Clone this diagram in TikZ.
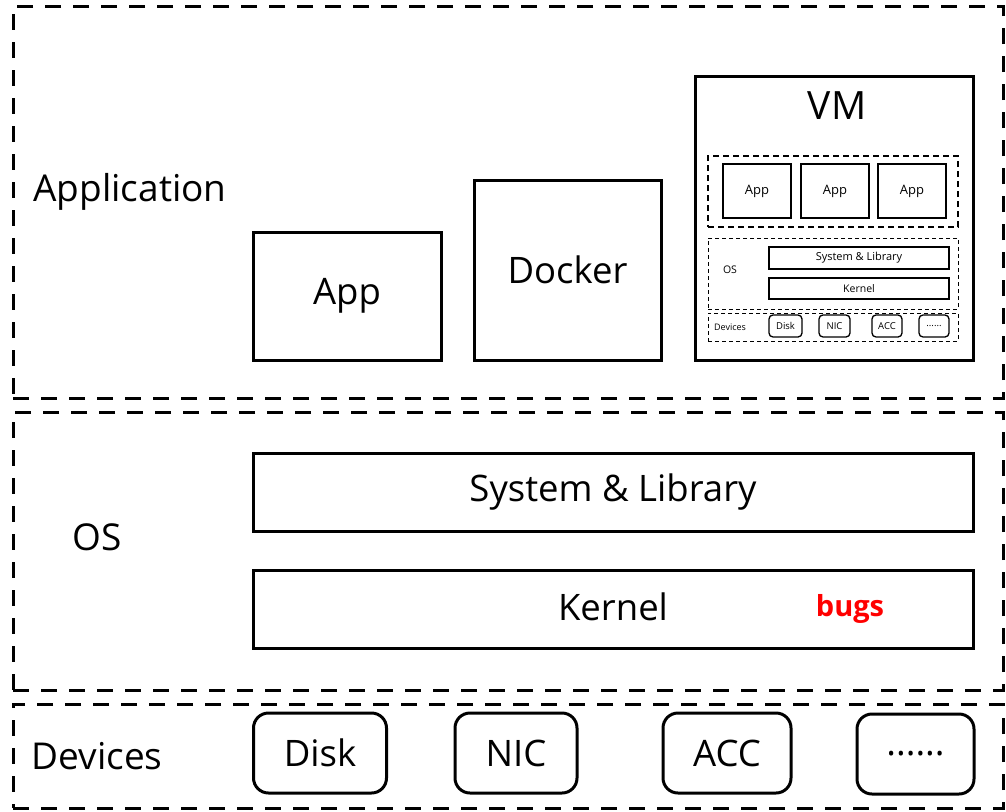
\documentclass[tikz,border=0pt]{standalone}
\usepackage{fontspec}
\setmainfont{Open Sans}
\usetikzlibrary{positioning}
\begin{document}
\begin{tikzpicture}[x=1pt,y=-1pt,
  layer/.style={draw, line width=3pt, dash pattern=on 16pt off 12pt, minimum width=#1},
  solidbox/.style={draw, line width=3pt, inner sep=0pt},
  dev/.style={draw, line width=3pt, rounded corners=15pt, inner sep=0pt, minimum width=#1, minimum height=80pt},
  big/.style={font=\fontsize{37}{42}\selectfont},
  mid/.style={font=\fontsize{36.5}{42}\selectfont},
  vmbox/.style={draw, line width=1.6pt, inner sep=0pt},
  vmdash/.style={draw, line width=1.8pt, dash pattern=on 6pt off 4pt, inner sep=0pt},
  vmthin/.style={draw, line width=0.9pt, dash pattern=on 4pt off 3pt, inner sep=0pt},
  tiny/.style={font=\fontsize{10.5}{12}\selectfont},
  dtiny/.style={draw, line width=1.3pt, rounded corners=4pt, inner sep=0pt, minimum height=22pt, font=\fontsize{9.5}{11}\selectfont}
]
\useasboundingbox (0,0) rectangle (1006,811);

% three layers
\node[layer=990pt, minimum height=392pt] (applayer) at (508,202) {};
\node[layer=990pt, minimum height=278pt] (oslayer) at (508,551) {};
\node[layer=990pt, minimum height=104pt] (devlayer) at (508,756) {};

\node[big] (lapp) at (130,192) {Application};
\node[big] (los) at (97,537) {OS};
\node[big] (ldev) at (97,756) {Devices};

% application layer
\node[solidbox, minimum width=188pt, minimum height=128pt, mid] (app) at (347,296) {App};
\node[solidbox, minimum width=187pt, minimum height=180pt, mid] (docker) at (567.5,270) {Docker};
\node[solidbox, minimum width=278pt, minimum height=284pt] (vm) at (834,218) {};
\node[font=\fontsize{39}{44}\selectfont] (vmlabel) at (837,106) {VM};

% inside the VM
\node[vmdash, minimum width=250pt, minimum height=71pt] (vmapps) at (833,191.5) {};
\node[vmbox, minimum width=68pt, minimum height=54pt, font=\fontsize{13}{15}\selectfont] (vmapp1) at (757,191) {App};
\node[vmbox, minimum width=68pt, minimum height=54pt, font=\fontsize{13}{15}\selectfont] (vmapp2) at (835,191) {App};
\node[vmbox, minimum width=68pt, minimum height=54pt, font=\fontsize{13}{15}\selectfont] (vmapp3) at (912,191) {App};

\node[vmthin, minimum width=250pt, minimum height=71pt] (vmos) at (833,273.5) {};
\node[tiny] (vmoslabel) at (730,270) {OS};
\node[vmbox, line width=1.2pt, minimum width=180pt, minimum height=22pt, font=\fontsize{11}{13}\selectfont] (vmsys) at (859,258) {System \& Library};
\node[vmbox, line width=1.2pt, minimum width=180pt, minimum height=21pt, font=\fontsize{10.5}{12}\selectfont] (vmkern) at (859,288.5) {Kernel};

\node[vmthin, minimum width=250pt, minimum height=28pt] (vmdev) at (833,327) {};
\node[font=\fontsize{9}{11}\selectfont] (vmdevlabel) at (730,327) {Devices};
\node[dtiny, minimum width=33pt] (vmdisk) at (785.5,326) {Disk};
\node[dtiny, minimum width=31pt] (vmnic) at (834.5,326) {NIC};
\node[dtiny, minimum width=30pt] (vmacc) at (887,326) {ACC};
\node[dtiny, minimum width=30pt] (vmmore) at (934,326) {......};

% OS layer
\node[solidbox, minimum width=720pt, minimum height=78pt, mid] (syslib) at (613,492) {System \& Library};
\node[solidbox, minimum width=720pt, minimum height=78pt] (kernel) at (613,609) {};
\node[mid] (kernlabel) at (613,607) {Kernel};
\node[text=red, font=\fontsize{29}{34}\selectfont\bfseries] (bugs) at (850,609) {bugs};

% devices layer
\node[dev=133pt, mid] (disk) at (320,753) {Disk};
\node[dev=122pt, mid] (nic) at (516,753) {NIC};
\node[dev=128pt, mid] (acc) at (727,753) {ACC};
\node[dev=117pt, mid] (more) at (915.5,754) {......};
\end{tikzpicture}
\end{document}
